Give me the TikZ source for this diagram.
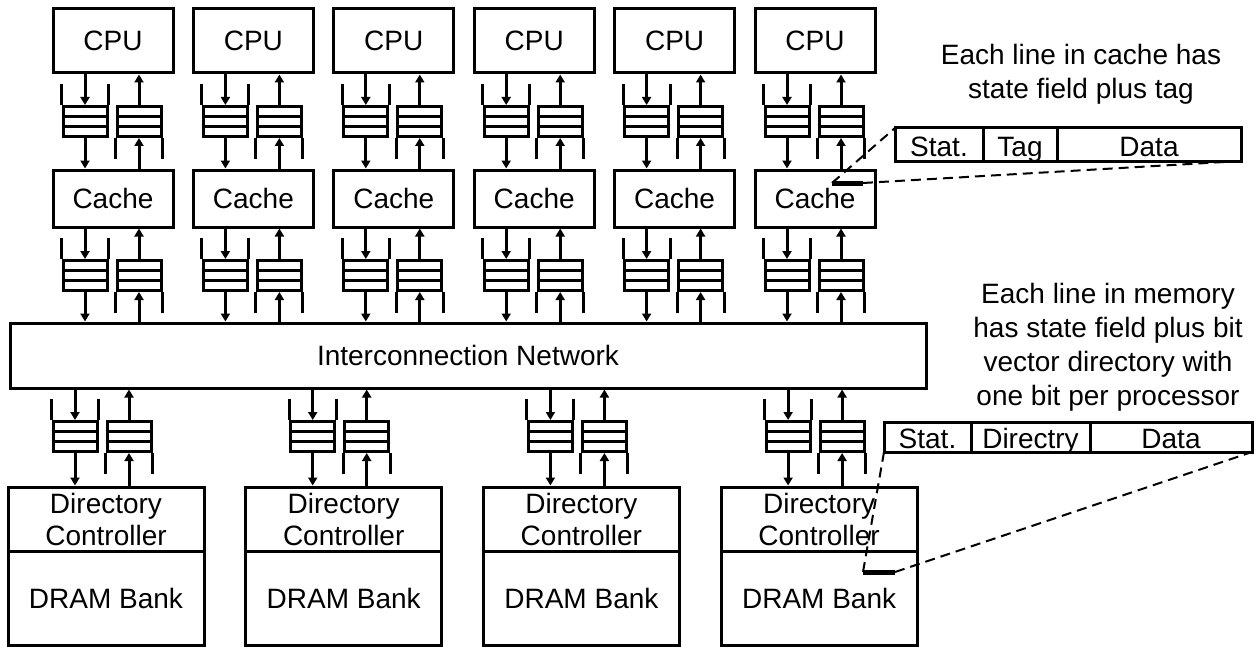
\documentclass[tikz,border=0pt]{standalone}
\usepackage{fontspec}
\setmainfont{Liberation Sans}
\usetikzlibrary{arrows.meta, positioning}

\tikzset{
  unit/.style={draw, inner sep=0pt, minimum width=60pt, font=\fontsize{14}{16}\selectfont},
  buf/.style={draw, inner sep=0pt, minimum width=22pt, minimum height=15pt},
  wire/.style={-{Triangle[length=4pt,width=4.5pt]}},
  cell/.style={draw, inner sep=0pt, outer sep=0pt, text height=11.5pt, text depth=0pt, font=\fontsize{14}{16}\selectfont},
  zoomline/.style={line width=1pt, dash pattern=on 5pt off 3pt},
  linebar/.style={line width=2.5pt},
  note/.style={align=center, font=\fontsize{14}{17}\selectfont},
}

% buffer whose side walls stick up (filled from above)
\newcommand{\infifo}[3]{%
  \node[buf] (#1) at ({#2},{#3}) {};
  \draw ([yshift=2.5pt]#1.west) -- ([yshift=2.5pt]#1.east)
        ([yshift=-2.5pt]#1.west) -- ([yshift=-2.5pt]#1.east);
  \draw (#1.north west) -- ++(0,-21) (#1.north east) -- ++(0,-21);
}
% buffer whose side walls hang down (filled from below)
\newcommand{\outfifo}[3]{%
  \node[buf] (#1) at ({#2},{#3}) {};
  \draw ([yshift=2.5pt]#1.west) -- ([yshift=2.5pt]#1.east)
        ([yshift=-2.5pt]#1.west) -- ([yshift=-2.5pt]#1.east);
  \draw (#1.south west) -- ++(0,21) (#1.south east) -- ++(0,21);
}

\begin{document}
\begin{tikzpicture}[x=0.5pt, y=-0.5pt, line width=1.5pt]
\useasboundingbox (0,0) rectangle (1258,647);

% processors and their caches
\foreach \i in {0,...,5}{
  \pgfmathsetmacro\L{53+140.4*\i}
  \node[unit, minimum height=32pt] (cpu\i) at ({\L+60},41) {CPU};
  \node[unit, minimum height=28.5pt] (cache\i) at ({\L+60},198.5) {Cache};
}

\node[unit, minimum width=458pt, minimum height=32.5pt] (net) at (468,355.5) {Interconnection Network};

% queues between cpu, cache and network
\foreach \i in {0,...,5}{
  \pgfmathsetmacro\L{53+140.4*\i}
  \infifo{qa\i}{\L+32}{121.5}
  \outfifo{ra\i}{\L+86}{121.5}
  \infifo{qb\i}{\L+32}{275.5}
  \outfifo{rb\i}{\L+86}{275.5}
  \draw[wire] (qa\i.north |- cpu\i.south) -- (qa\i.north);
  \draw[wire] (qa\i.south) -- (qa\i.south |- cache\i.north);
  \draw[wire] (ra\i.south |- cache\i.north) -- (ra\i.south);
  \draw[wire] (ra\i.north) -- (ra\i.north |- cpu\i.south);
  \draw[wire] (qb\i.north |- cache\i.south) -- (qb\i.north);
  \draw[wire] (qb\i.south) -- (qb\i.south |- net.north);
  \draw[wire] (rb\i.south |- net.north) -- (rb\i.south);
  \draw[wire] (rb\i.north) -- (rb\i.north |- cache\i.south);
}

% memory side
\foreach \j in {0,...,3}{
  \pgfmathsetmacro\M{8+237.7*\j}
  \node[unit, minimum width=98pt, minimum height=32pt, align=center] (dir\j) at ({\M+98},519) {Directory\\Controller};
  \node[unit, minimum width=98pt, minimum height=47pt] (dram\j) at ({\M+98},598) {DRAM Bank};
  \infifo{qm\j}{\M+67}{436.5}
  \outfifo{rm\j}{\M+121}{436.5}
  \draw[wire] (qm\j.north |- net.south) -- (qm\j.north);
  \draw[wire] (qm\j.south) -- (qm\j.south |- dir\j.north);
  \draw[wire] (rm\j.south |- dir\j.north) -- (rm\j.south);
  \draw[wire] (rm\j.north) -- (rm\j.north |- net.south);
}

% cache line format
\node[note] (cachenote) at (1081,74.5) {Each line in cache has\\state field plus tag};
\node[cell, minimum width=44pt, minimum height=16.5pt] (cstat) at (939,144.5) {Stat.};
\node[cell, minimum width=37pt, minimum height=16.5pt, right=0pt of cstat] (ctag) {Tag};
\node[cell, minimum width=92pt, minimum height=16.5pt, right=0pt of ctag] (cdata) {Data};
\coordinate (cbarL) at (832,183);
\coordinate (cbarR) at (863,183);
\draw[linebar] (cbarL) -- (cbarR);
\draw[zoomline] (cbarL) -- (cstat.north west);
\draw[zoomline] (cbarR) -- (cdata.south east);

% memory line format
\node[note] (memnote) at (1108,347) {Each line in memory\\has state field plus bit\\vector directory with\\one bit per processor};
\node[cell, minimum width=43.5pt, minimum height=15pt] (mstat) at (927.5,437) {Stat.};
\node[cell, minimum width=59.5pt, minimum height=15pt, right=0pt of mstat] (mdir) {Directry};
\node[cell, minimum width=81pt, minimum height=15pt, right=0pt of mdir] (mdata) {Data};
\coordinate (mbarL) at (863,572);
\coordinate (mbarR) at (895,572);
\draw[linebar] (mbarL) -- (mbarR);
\draw[zoomline] (mbarL) -- (mstat.south west);
\draw[zoomline] (mbarR) -- (mdata.south east);
\end{tikzpicture}
\end{document}
